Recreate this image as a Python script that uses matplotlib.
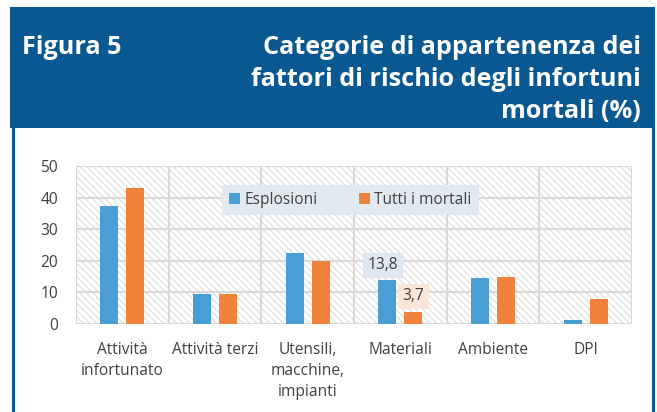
import matplotlib
matplotlib.use("Agg")
import matplotlib.pyplot as plt
from matplotlib.patches import Rectangle, Patch
import numpy as np

plt.rcParams['font.family'] = ['Open Sans', 'DejaVu Sans']
plt.rcParams['hatch.color'] = '#DEDEDE'
plt.rcParams['hatch.linewidth'] = 0.8

categories = ["Attività\ninfortunato", "Attività terzi", "Utensili,\nmacchine,\nimpianti",
              "Materiali", "Ambiente", "DPI"]
esplosioni = [37.3, 9.6, 22.6, 13.8, 14.4, 1.3]
tutti_mortali = [43.1, 9.5, 20.0, 3.7, 15.0, 7.9]
series_names = ["Esplosioni", "Tutti i mortali"]
yticks = [0, 10, 20, 30, 40, 50]
labelled = {3: ("13,8", "3,7")}

W, H = 657, 412
fig = plt.figure(figsize=(W / 100, H / 100), dpi=100)
fig.patch.set_facecolor('white')

HEADER = '#0A5891'
TEXT = '#404040'
BLUE = '#4A9ED6'
ORANGE = '#F0823C'

def fx(px):
    return px / W

def fy(py):
    return 1 - py / H

# header band
fig.patches.append(Rectangle((fx(10), fy(128)), fx(645), 121 / H, transform=fig.transFigure,
                             facecolor=HEADER, edgecolor='none', zorder=0))
# box side borders
fig.add_artist(plt.Line2D([fx(13), fx(13)], [fy(128), 0], transform=fig.transFigure, color=HEADER, lw=2.2))
fig.add_artist(plt.Line2D([fx(652.5), fx(652.5)], [fy(128), 0], transform=fig.transFigure, color=HEADER, lw=2.2))

fig.text(fx(22), fy(48), "Figura 5", color='white', fontsize=18.2, fontweight='bold',
         ha='left', va='center')
title_lines = ["Categorie di appartenenza dei", "fattori di rischio degli infortuni", "mortali (%)"]
for i, line in enumerate(title_lines):
    fig.text(fx(641), fy(48 + 31.5 * i), line, color='white', fontsize=18.2, fontweight='bold',
             ha='right', va='center')

ax = fig.add_axes([fx(76), fy(324), fx(556), 158 / H])
ax.set_xlim(-0.5, len(categories) - 0.5)
ax.set_ylim(0, 50)
ax.set_facecolor('white')

# hatched background
ax.add_patch(Rectangle((0, 0), 1, 1, transform=ax.transAxes, facecolor='white',
                       edgecolor='#DEDEDE', hatch='\\\\\\\\\\', lw=0, zorder=0))

GRID = '#D9D9D9'
for y in yticks:
    ax.axhline(y, color=GRID, lw=1.5, zorder=1)
for xb in np.arange(-0.5, len(categories), 1.0):
    ax.axvline(xb, color=GRID, lw=1.5, zorder=1)

x = np.arange(len(categories))
off = 0.14
bw = 0.195
ax.bar(x - off, esplosioni, width=bw, color=BLUE, zorder=3)
ax.bar(x + off, tutti_mortali, width=bw, color=ORANGE, zorder=3)

FS = 11.2
for idx, (lb, lo) in labelled.items():
    ax.annotate(lb, (x[idx] - off, esplosioni[idx]), xytext=(-4, 15), textcoords='offset pixels',
                ha='center', va='center', fontsize=FS, color=TEXT, zorder=5,
                bbox=dict(boxstyle='square,pad=0.3', facecolor='#DFE8F0', edgecolor='none'))
    ax.annotate(lo, (x[idx] + off, tutti_mortali[idx]), xytext=(0, 16), textcoords='offset pixels',
                ha='center', va='center', fontsize=FS, color=TEXT, zorder=5,
                bbox=dict(boxstyle='square,pad=0.3', facecolor='#FBE6D8', edgecolor='none'))

for s in ax.spines.values():
    s.set_visible(False)
ax.set_yticks(yticks)
ax.set_yticklabels([str(v) for v in yticks], fontsize=FS, color=TEXT)
ax.set_xticks(x)
ax.set_xticklabels(categories, fontsize=FS, color=TEXT, linespacing=1.4, va='top')
ax.tick_params(axis='both', length=0)
ax.tick_params(axis='y', pad=13)
ax.tick_params(axis='x', pad=13)

handles = [Patch(facecolor=BLUE, edgecolor='none'), Patch(facecolor=ORANGE, edgecolor='none')]
leg = fig.legend(handles, series_names, loc='center', bbox_to_anchor=(fx(350.5), fy(199.5)),
                 ncol=2, frameon=True, fontsize=FS, handlelength=0.7, handleheight=0.7,
                 handletextpad=0.3, columnspacing=2.6, borderpad=0.45, borderaxespad=0,
                 fancybox=False, labelcolor=TEXT)
leg.get_frame().set_facecolor('#E2EAF1')
leg.get_frame().set_edgecolor('none')
leg.get_frame().set_alpha(1)
leg.set_zorder(6)

fig.savefig('out.png', dpi=100)
